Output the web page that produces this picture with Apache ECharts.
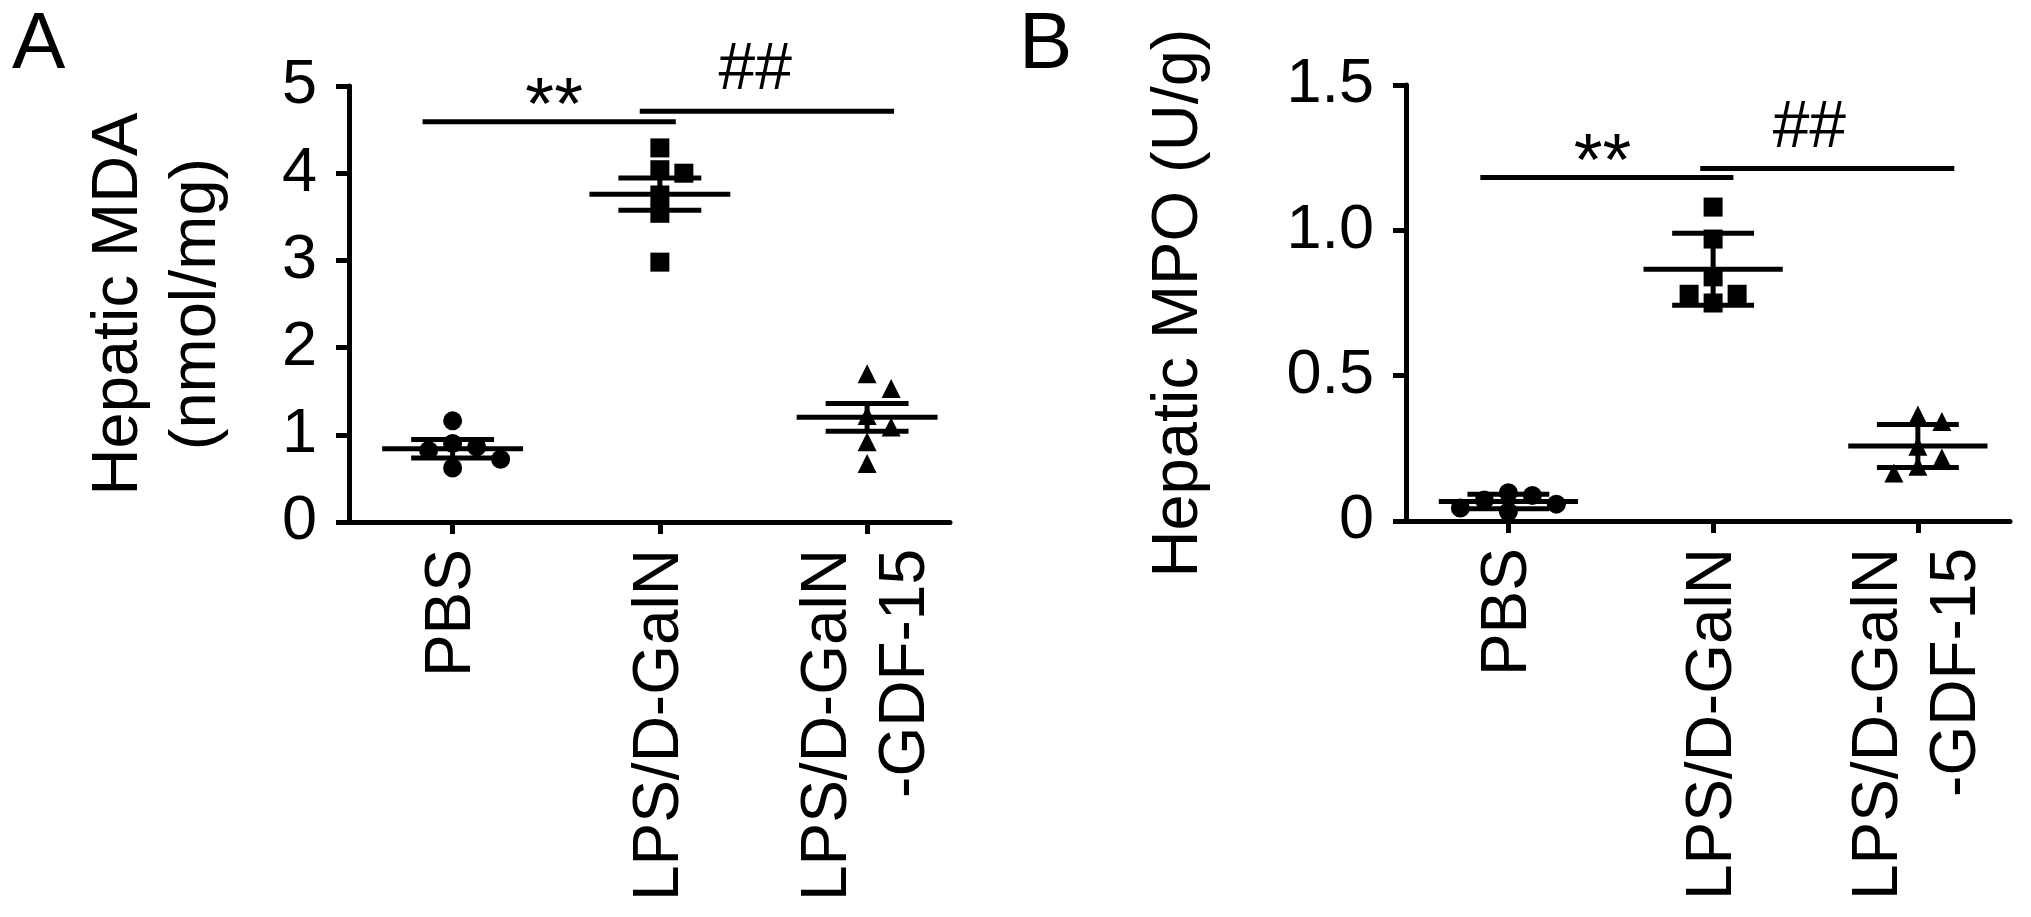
<!DOCTYPE html>
<html>
<head>
<meta charset="utf-8">
<script src="https://cdn.jsdelivr.net/npm/echarts@6/dist/echarts.min.js"></script>
<style>
  html, body { margin: 0; background: #fff; }
  #chart { width: 2031px; height: 917px; }
</style>
</head>
<body>
<div id="chart"></div>
<script>
  const categories = ['PBS', 'LPS/D-GalN', 'LPS/D-GalN\n-GDF-15'];

  // panel A, hepatic MDA (nmol/mg)
  const mdaPBS = [1.16, 0.90, 0.86, 0.82, 0.72, 0.62];
  const mdaLPS = [4.29, 4.04, 4.00, 3.75, 3.54, 2.98];
  const mdaGDF = [1.70, 1.53, 1.22, 1.09, 0.92, 0.67];
  const mdaMean = [0.84, 3.76, 1.20];
  const mdaSem = [0.107, 0.185, 0.16];
  const mdaTicks = [0, 1, 2, 3, 4, 5];

  // panel B, hepatic MPO (U/g)
  const mpoPBS = [0.097, 0.088, 0.072, 0.058, 0.045, 0.032];
  const mpoLPS = [1.08, 0.97, 0.84, 0.78, 0.78, 0.75];
  const mpoGDF = [0.365, 0.342, 0.257, 0.217, 0.188, 0.165];
  const mpoMean = [0.067, 0.866, 0.258];
  const mpoSem = [0.025, 0.124, 0.074];
  const mpoTicks = [0, 0.5, 1.0, 1.5];

  // significance bars: [mark, from group, to group, height, mark centre]
  const mdaSig = [['**', 0.855, 2.077, 4.59, 1.49], ['##', 1.903, 3.13, 4.71, 2.46]];
  const mpoSig = [['**', 0.863, 2.099, 1.182, 1.46], ['##', 1.937, 3.178, 1.213, 2.47]];

  const FONT = '"Liberation Sans", Arial, sans-serif';
  const LINE_W = 5;
  const MEAN_HALF = 0.34;   // half width of mean bar, in group units
  const SEM_HALF = 0.2;
  const SYMBOL = 19;
  const SWARM_STEP = 24;
  const SWARM_GAP = 18;
  const SIG_FONT = { '**': { size: 74, dy: 24 }, '##': { size: 66, dy: -7 } };

  const chart = echarts.init(document.getElementById('chart'));

  // spread overlapping points sideways, like a dot plot
  function swarm(values, center, pxX, pxY) {
    const placed = [];
    return values.map(function (v) {
      const py = v * pxY;
      for (const k of [0, 1, -1, 2, -2, 3, -3]) {
        const px = k * SWARM_STEP;
        const free = placed.every(function (p) {
          return Math.hypot(p[0] - px, p[1] - py) >= SWARM_GAP;
        });
        if (free) {
          placed.push([px, py]);
          return [center + px / pxX, v];
        }
      }
      return [center, v];
    });
  }

  function renderErr(params, api) {
    const x = api.value(0), m = api.value(1), s = api.value(2);
    const hw = api.size([MEAN_HALF, 0])[0];
    const sw = api.size([SEM_HALF, 0])[0];
    const c = api.coord([x, m]);
    const hi = api.coord([x, m + s]);
    const lo = api.coord([x, m - s]);
    const style = { stroke: '#000', lineWidth: LINE_W };
    return {
      type: 'group',
      children: [
        { type: 'line', shape: { x1: c[0] - hw, y1: c[1], x2: c[0] + hw, y2: c[1] }, style: style },
        { type: 'line', shape: { x1: c[0] - sw, y1: hi[1], x2: c[0] + sw, y2: hi[1] }, style: style },
        { type: 'line', shape: { x1: c[0] - sw, y1: lo[1], x2: c[0] + sw, y2: lo[1] }, style: style },
        { type: 'line', shape: { x1: c[0], y1: hi[1], x2: c[0], y2: lo[1] }, style: style }
      ]
    };
  }

  function sigRenderer(sig) {
    return function (params, api) {
      const mark = sig[params.dataIndex][0];
      const f = SIG_FONT[mark];
      const a = api.coord([api.value(0), api.value(1)]);
      const b = api.coord([api.value(2), api.value(1)]);
      const t = api.coord([api.value(3), api.value(1)]);
      return {
        type: 'group',
        children: [
          { type: 'line', shape: { x1: a[0], y1: a[1], x2: b[0], y2: b[1] },
            style: { stroke: '#000', lineWidth: LINE_W } },
          { type: 'text', x: t[0], y: t[1] + f.dy,
            style: { text: mark, fill: '#000', font: f.size + 'px ' + FONT,
                     lineHeight: f.size, align: 'center', verticalAlign: 'bottom' } }
        ]
      };
    };
  }

  function panel(i, grid, ticks, yMax, xMax, fmt, name, nameGap, groups, mean, sem, sig) {
    const pxX = grid.width / (xMax - 0.5);
    const pxY = grid.height / yMax;
    const symbols = ['circle', 'rect', 'triangle'];
    const series = groups.map(function (vals, g) {
      return {
        type: 'scatter', xAxisIndex: i, yAxisIndex: i,
        symbol: symbols[g], symbolSize: SYMBOL,
        itemStyle: { color: '#000', opacity: 1 },
        data: swarm(vals, g + 1, pxX, pxY),
        z: 2
      };
    });
    series.push({
      type: 'custom', xAxisIndex: i, yAxisIndex: i,
      renderItem: renderErr,
      encode: { x: 0, y: 1 },
      data: mean.map(function (m, g) { return [g + 1, m, sem[g]]; }),
      z: 3
    });
    series.push({
      type: 'custom', xAxisIndex: i, yAxisIndex: i,
      renderItem: sigRenderer(sig),
      encode: { x: [0, 2], y: 1 },
      data: sig.map(function (s) { return [s[1], s[3], s[2], s[4]]; }),
      z: 3
    });

    const axisLine = { show: true, onZero: false, lineStyle: { color: '#000', width: LINE_W } };
    const xAxis = {
      type: 'value', gridIndex: i, min: 0.5, max: xMax,
      axisLine: axisLine,
      splitLine: { show: false },
      axisTick: { show: true, length: 12, customValues: [1, 2, 3],
                  lineStyle: { color: '#000', width: LINE_W } },
      axisLabel: {
        customValues: [1, 2, 3], rotate: 90, margin: 27,
        color: '#000', fontFamily: FONT, fontSize: 64, lineHeight: 78,
        formatter: function (v) { return categories[Math.round(v) - 1]; }
      }
    };
    const yAxis = {
      type: 'value', gridIndex: i, min: 0, max: yMax, interval: ticks[1] - ticks[0],
      name: name, nameLocation: 'middle', nameGap: nameGap,
      nameTextStyle: { color: '#000', fontFamily: FONT, fontSize: 65, lineHeight: 78 },
      axisLine: axisLine,
      splitLine: { show: false },
      axisTick: { show: true, length: 13, customValues: ticks,
                  lineStyle: { color: '#000', width: LINE_W } },
      axisLabel: { customValues: ticks, margin: 32, color: '#000',
                   fontFamily: FONT, fontSize: 63, formatter: fmt }
    };
    return { grid: grid, xAxis: xAxis, yAxis: yAxis, series: series };
  }

  const pA = panel(0, { left: 349, top: 86, width: 601, height: 436 },
    mdaTicks, 5, 3.4, function (v) { return String(v); },
    'Hepatic MDA\n(nmol/mg)', 113,
    [mdaPBS, mdaLPS, mdaGDF], mdaMean, mdaSem, mdaSig);

  const pB = panel(1, { left: 1406, top: 85, width: 604, height: 436 },
    mpoTicks, 1.5, 3.45, function (v) { return v === 0 ? '0' : v.toFixed(1); },
    'Hepatic MPO (U/g)', 188,
    [mpoPBS, mpoLPS, mpoGDF], mpoMean, mpoSem, mpoSig);

  const option = {
    backgroundColor: '#fff',
    animation: false,
    grid: [pA.grid, pB.grid],
    xAxis: [pA.xAxis, pB.xAxis],
    yAxis: [pA.yAxis, pB.yAxis],
    series: pA.series.concat(pB.series),
    graphic: [
      { type: 'text', left: 12, top: 6, style: { text: 'A', fill: '#000', font: '80px ' + FONT, lineHeight: 80 } },
      { type: 'text', left: 1019, top: 6, style: { text: 'B', fill: '#000', font: '80px ' + FONT, lineHeight: 80 } }
    ]
  };

  chart.setOption(option);
  window.addEventListener('resize', function () {
    chart.resize();
  });
</script>
</body>
</html>
